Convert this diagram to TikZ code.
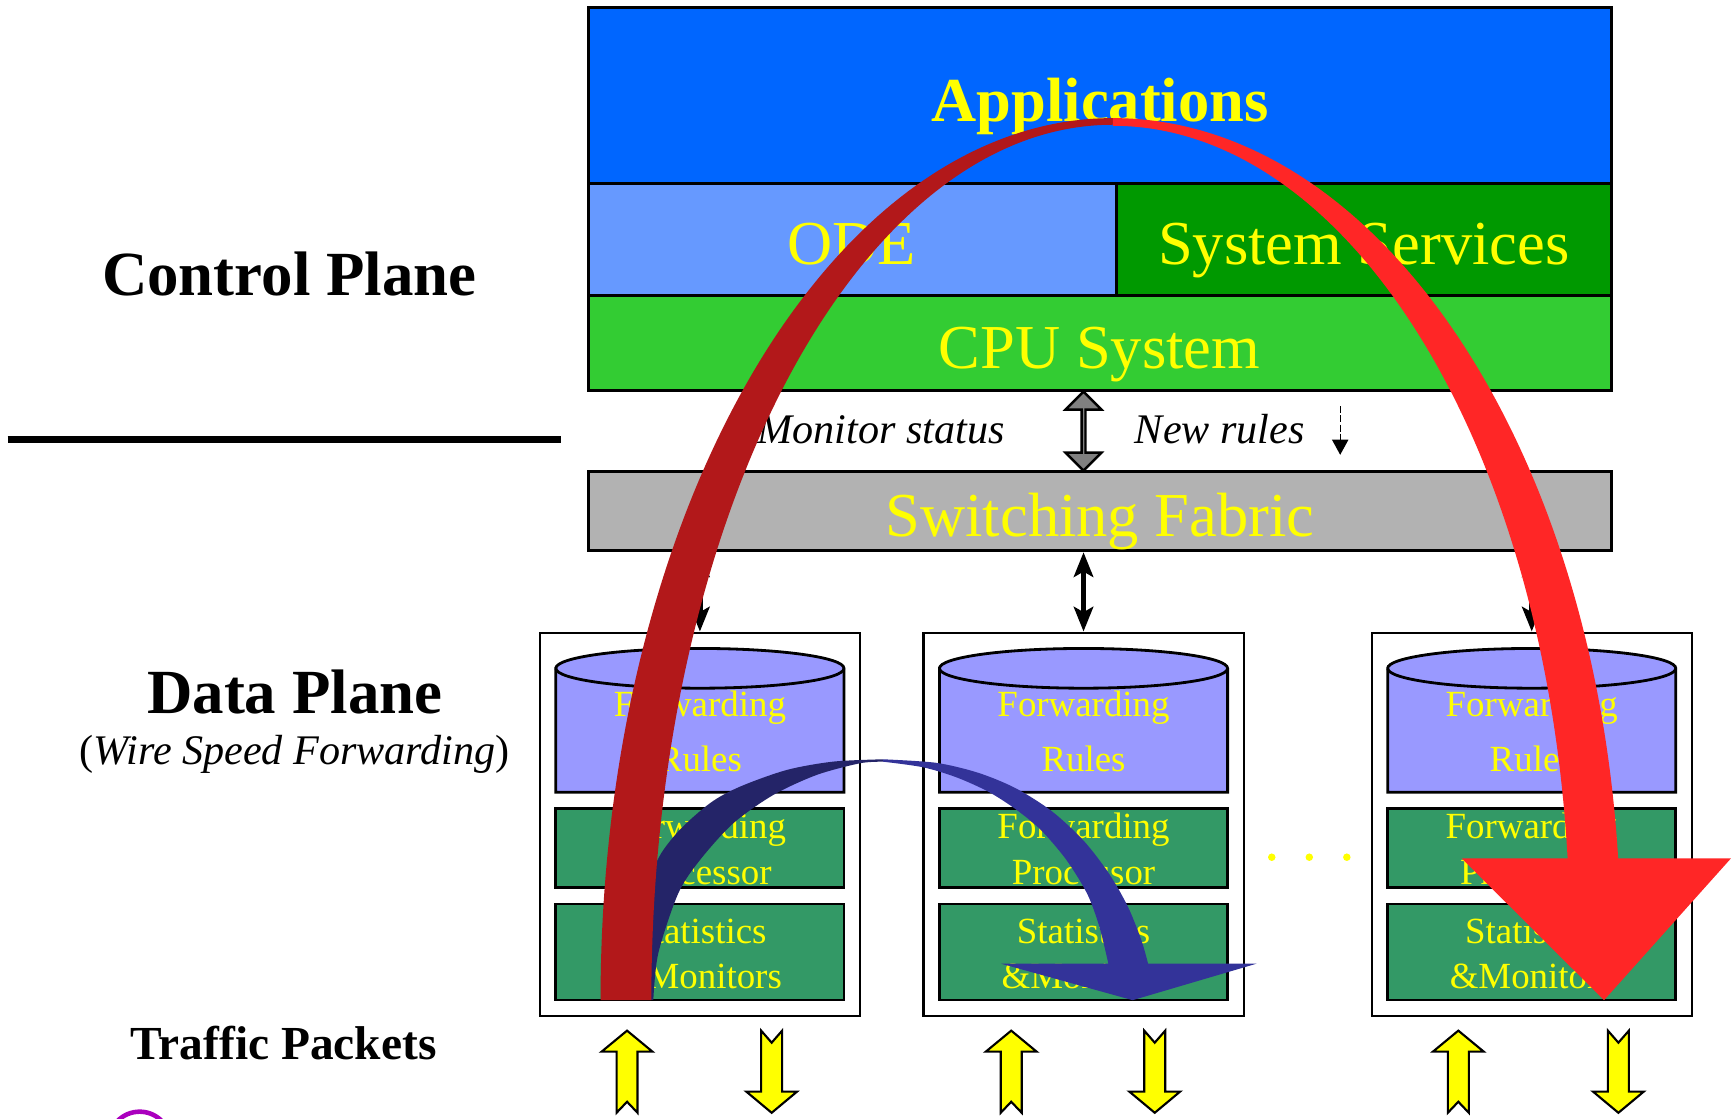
\documentclass[tikz,border=0pt]{standalone}
\usepackage{fontspec}
\setmainfont{Liberation Serif}
\usetikzlibrary{fit,shapes.arrows,arrows.meta}

\definecolor{appblue}{RGB}{0,102,255}
\definecolor{odeblue}{RGB}{102,153,255}
\definecolor{svcgreen}{RGB}{0,153,0}
\definecolor{cpugreen}{RGB}{51,204,51}
\definecolor{fabricgray}{RGB}{178,178,178}
\definecolor{statusgray}{RGB}{128,128,128}
\definecolor{rulesblue}{RGB}{153,153,255}
\definecolor{procgreen}{RGB}{51,153,102}
\definecolor{txtyellow}{RGB}{255,255,0}
\definecolor{arcdark}{RGB}{178,24,26}
\definecolor{arcred}{RGB}{255,38,38}
\definecolor{arcnavy}{RGB}{36,36,104}
\definecolor{arcblue}{RGB}{51,51,153}
\definecolor{ringpurple}{RGB}{170,0,190}

\begin{document}
\begin{tikzpicture}[x=0.01104cm, y=-0.01104cm,
   layer/.style={draw, line width=0.8pt, inner sep=0pt},
   modbox/.style={draw, line width=0.6pt, inner sep=0pt, fill=white},
   unitbox/.style={draw, line width=0.8pt, inner sep=0pt, fill=procgreen},
   bigtext/.style={text=txtyellow, inner sep=0pt, font=\fontsize{17.8}{21}\selectfont},
   unittext/.style={text=txtyellow, inner sep=0pt, align=center},
   sidetext/.style={inner sep=0pt, font=\bfseries\fontsize{17.9}{21}\selectfont},
   note/.style={inner sep=0pt, font=\itshape\fontsize{12}{14}\selectfont},
   statusarrow/.style={double arrow, draw, fill=statusgray, line width=0.7pt, inner sep=0pt,
      minimum height=0.79cm, minimum width=0.36cm, double arrow head extend=0.1cm},
   linkarrow/.style={line width=1.5pt, {Stealth[length=7pt,width=5.5pt,inset=1.5pt]}-{Stealth[length=7pt,width=5.5pt,inset=1.5pt]}},
   packet/.style={fill=txtyellow, draw, line width=0.6pt}]
   \clip (0,0) rectangle (1568,1013);

   % control plane stack
   \node[layer, fill=appblue, fit={(533,7) (1460,166)}] (apps) {};
   \node[layer, fill=odeblue, fit={(533,166) (1011,268)}] (ode) {};
   \node[layer, fill=svcgreen, fit={(1011,166) (1460,268)}] (svc) {};
   \node[layer, fill=cpugreen, fit={(533,268) (1460,354)}] (cpu) {};
   \node[layer, fill=fabricgray, fit={(533,427) (1460,499)}] (fabric) {};
   \node[bigtext, anchor=base] (appstext) at (996.5,110) {\bfseries Applications};
   \node[bigtext, anchor=base] (odetext) at (771.5,240) {ODE};
   \node[bigtext, anchor=base] (svctext) at (1235.5,240) {System Services};
   \node[bigtext, anchor=base] (cputext) at (996,334) {CPU System};
   \node[bigtext, anchor=base] (fabrictext) at (996.5,486) {Switching Fabric};

   % plane labels
   \node[sidetext, anchor=base] (ctrl) at (262,268) {Control Plane};
   \draw[line width=2pt] (7,398) -- (508,398);
   \node[sidetext, anchor=base] (data) at (267,646) {Data Plane};
   \node[inner sep=0pt, font=\fontsize{12}{14}\selectfont, anchor=base] (wire) at (267,692.5) {(\textit{Wire Speed Forwarding})};
   \node[inner sep=0pt, font=\bfseries\fontsize{13.5}{16}\selectfont, anchor=base] (traffic) at (257,959.5) {Traffic Packets};

   % line cards
   \begin{scope}[shift={(489,0)}]
      \node[modbox, fit={(0,573) (290,920)}] (mod1) {};
      \filldraw[fill=rulesblue, line width=0.8pt] (14.5,605.4) -- (14.5,717.7) -- (275.5,717.7) -- (275.5,605.4)
         arc[start angle=0, end angle=-180, x radius=130.5, y radius=18] -- cycle;
      \draw[line width=0.8pt] (14.5,605.4) arc[start angle=180, end angle=0, x radius=130.5, y radius=18];
      \node[unitbox, fit={(14.5,732.2) (275.5,804.1)}] (proc1) {};
      \node[unitbox, fit={(14.5,818.8) (275.5,905.8)}] (stats1) {};
      \node[unittext, font=\fontsize{10.5}{15.6}\selectfont, anchor=base] (rules1) at (145,699) {Forwarding\\Rules};
      \node[unittext, font=\fontsize{10.5}{13.2}\selectfont, anchor=base] (proctext1) at (145,801.6) {Forwarding\\Processor};
      \node[unittext, font=\fontsize{10.5}{12.8}\selectfont, anchor=base] (statstext1) at (145,895.2) {Statistics\\\&Monitors};
   \end{scope}
   \begin{scope}[shift={(836.5,0)}]
      \node[modbox, fit={(0,573) (290,920)}] (mod2) {};
      \filldraw[fill=rulesblue, line width=0.8pt] (14.5,605.4) -- (14.5,717.7) -- (275.5,717.7) -- (275.5,605.4)
         arc[start angle=0, end angle=-180, x radius=130.5, y radius=18] -- cycle;
      \draw[line width=0.8pt] (14.5,605.4) arc[start angle=180, end angle=0, x radius=130.5, y radius=18];
      \node[unitbox, fit={(14.5,732.2) (275.5,804.1)}] (proc2) {};
      \node[unitbox, fit={(14.5,818.8) (275.5,905.8)}] (stats2) {};
      \node[unittext, font=\fontsize{10.5}{15.6}\selectfont, anchor=base] (rules2) at (145,699) {Forwarding\\Rules};
      \node[unittext, font=\fontsize{10.5}{13.2}\selectfont, anchor=base] (proctext2) at (145,801.6) {Forwarding\\Processor};
      \node[unittext, font=\fontsize{10.5}{12.8}\selectfont, anchor=base] (statstext2) at (145,895.2) {Statistics\\\&Monitors};
   \end{scope}
   \begin{scope}[shift={(1242.5,0)}]
      \node[modbox, fit={(0,573) (290,920)}] (mod3) {};
      \filldraw[fill=rulesblue, line width=0.8pt] (14.5,605.4) -- (14.5,717.7) -- (275.5,717.7) -- (275.5,605.4)
         arc[start angle=0, end angle=-180, x radius=130.5, y radius=18] -- cycle;
      \draw[line width=0.8pt] (14.5,605.4) arc[start angle=180, end angle=0, x radius=130.5, y radius=18];
      \node[unitbox, fit={(14.5,732.2) (275.5,804.1)}] (proc3) {};
      \node[unitbox, fit={(14.5,818.8) (275.5,905.8)}] (stats3) {};
      \node[unittext, font=\fontsize{10.5}{15.6}\selectfont, anchor=base] (rules3) at (145,699) {Forwarding\\Rules};
      \node[unittext, font=\fontsize{10.5}{13.2}\selectfont, anchor=base] (proctext3) at (145,801.6) {Forwarding\\Processor};
      \node[unittext, font=\fontsize{10.5}{12.8}\selectfont, anchor=base] (statstext3) at (145,895.2) {Statistics\\\&Monitors};
   \end{scope}
   \fill[txtyellow] (1152,776.5) circle[radius=3.4] (1186,776.5) circle[radius=3.4] (1220,776.5) circle[radius=3.4];

   % control <-> fabric <-> cards
   \path (cpu.south -| mod2.north) -- node[statusarrow, sloped] (status) {} (fabric.north -| mod2.north);
   \node[note, anchor=base] (monitor) at (798,401.6) {Monitor status};
   \node[note, anchor=base] (newrules) at (1105,401.6) {New rules};
   \coordinate (pushtop) at (1214,368);
   \coordinate (pushend) at (1214,412);
   \draw[line width=0.4pt, dash pattern=on 2pt off 0.6pt, -{Triangle[length=4.3pt,width=4.6pt]}] (pushtop) -- (pushend);
   \draw[linkarrow] (fabric.south -| mod1.north) -- (mod1.north);
   \draw[linkarrow] (fabric.south -| mod2.north) -- (mod2.north);
   \draw[linkarrow] (fabric.south -| mod3.north) -- (mod3.north);

   % packets in and out
   \filldraw[packet] (568,933.6) -- ++(23,19) -- ++(-13.5,0) -- ++(0,55.4) -- ++(-9.5,-10) -- ++(-9.5,10) -- ++(0,-55.4) -- ++(-13.5,0) -- cycle;
   \filldraw[packet] (689.5,933.6) -- ++(9.5,10.9) -- ++(9.5,-10.9) -- ++(0,55.2) -- ++(13.5,0) -- ++(-23,19.2) -- ++(-23,-19.2) -- ++(13.5,0) -- cycle;
   \filldraw[packet] (916,933.6) -- ++(23,19) -- ++(-13.5,0) -- ++(0,55.4) -- ++(-9.5,-10) -- ++(-9.5,10) -- ++(0,-55.4) -- ++(-13.5,0) -- cycle;
   \filldraw[packet] (1036.5,933.6) -- ++(9.5,10.9) -- ++(9.5,-10.9) -- ++(0,55.2) -- ++(13.5,0) -- ++(-23,19.2) -- ++(-23,-19.2) -- ++(13.5,0) -- cycle;
   \filldraw[packet] (1321,933.6) -- ++(23,19) -- ++(-13.5,0) -- ++(0,55.4) -- ++(-9.5,-10) -- ++(-9.5,10) -- ++(0,-55.4) -- ++(-13.5,0) -- cycle;
   \filldraw[packet] (1456.5,933.6) -- ++(9.5,10.9) -- ++(9.5,-10.9) -- ++(0,55.2) -- ++(13.5,0) -- ++(-23,19.2) -- ++(-23,-19.2) -- ++(13.5,0) -- cycle;
   \draw[ringpurple, line width=1.3pt] (126.5,1035) circle[radius=28];

   % card to card path (blue)
   \fill[arcnavy] plot[smooth] coordinates {(588.8,905.8) (590.3,833.3) (593.3,785) (612.9,754.8) (643.1,727.6) (670.3,712.6) (712.6,697.5) (754.8,689.9) (800,687.8)}
      -- plot[smooth] coordinates {(800,690) (779,691.4) (739.7,702) (700.5,720.1) (664.2,745.8) (634.1,779) (614.4,809.2) (596.3,863.5) (591.8,905.8)} -- cycle;
   \fill[arcblue] plot[smooth] coordinates {(800,687.8) (848,691) (886,700) (920,714) (953,735) (982,762) (1005,792) (1022,822) (1034,852) (1040,873)}
      -- (1138,873) -- (1026,906) -- (907,873) -- (1004,873)
      -- plot[smooth] coordinates {(1004,873) (996,840) (985,810) (966,779) (943,752) (920,733) (895,717) (866,704) (836,695) (800,690)} -- cycle;

   % path through the control plane (red)
   \fill[arcdark] (544,906) arc[start angle=180, end angle=270, x radius=464, y radius=799]
      -- (1008,113) arc[start angle=270, end angle=180, x radius=418, y radius=793] -- cycle;
   \fill[arcred] (1008,107) arc[start angle=270, end angle=354.4, x radius=460, y radius=743]
      -- (1568,777.5) -- (1453,906) -- (1324,777.5) -- (1420,777.5)
      arc[start angle=354.35, end angle=270, x radius=414, y radius=736] -- cycle;
\end{tikzpicture}
\end{document}
